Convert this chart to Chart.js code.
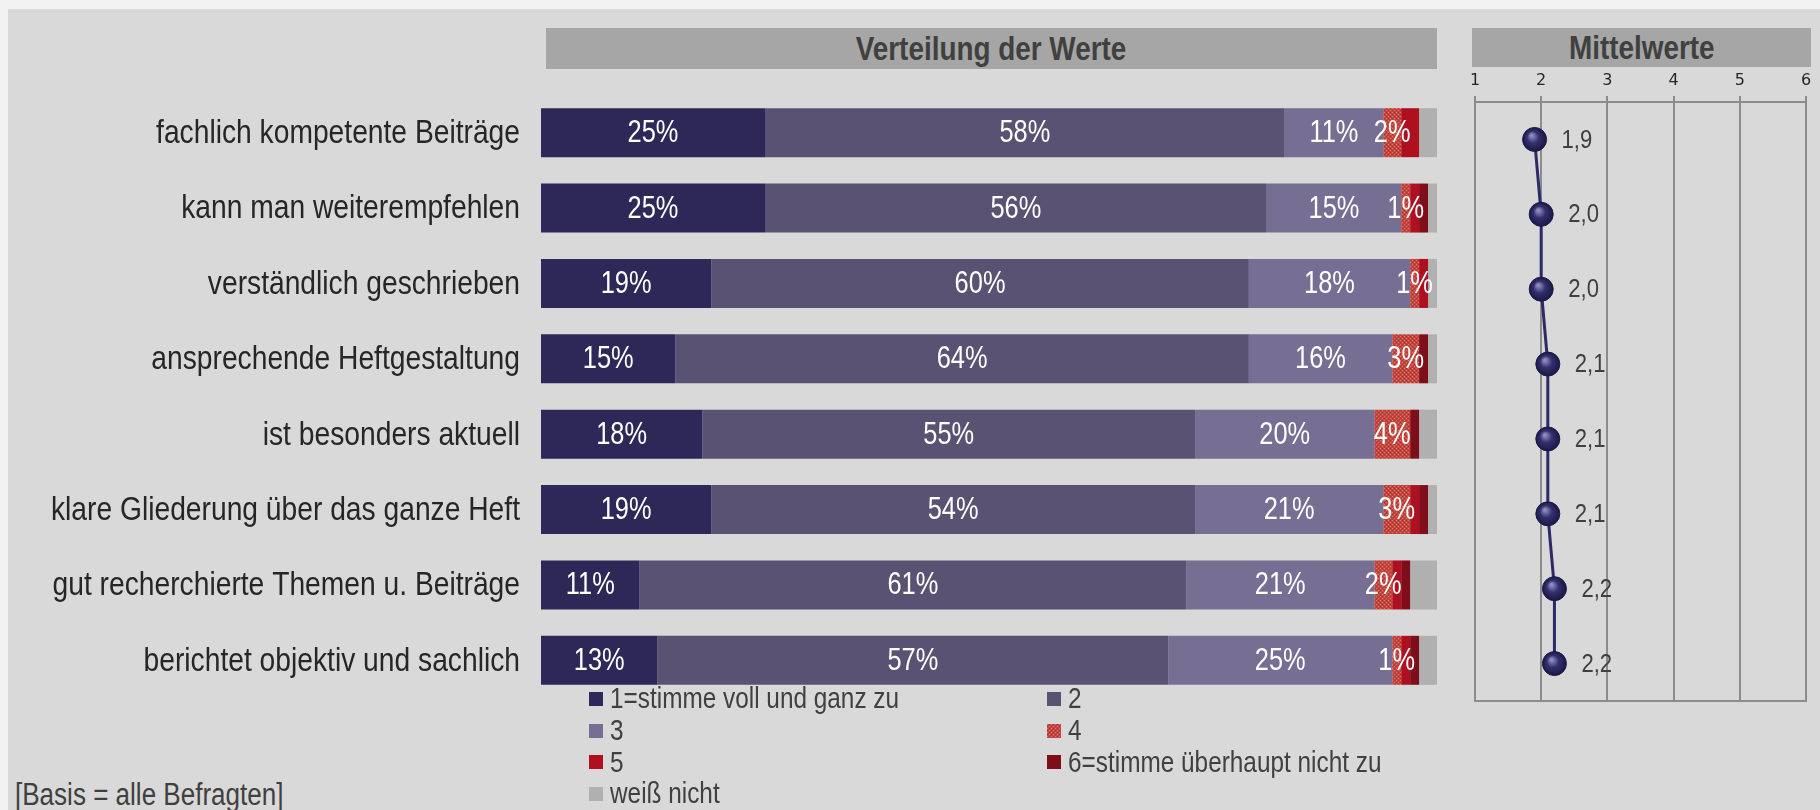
<!DOCTYPE html>
<html>
<head>
<meta charset="utf-8">
<script src="https://cdn.jsdelivr.net/npm/chart.js@4.4.1/dist/chart.umd.min.js"></script>
<style>
  body { margin: 0; width: 1820px; height: 810px; background: #f2f2f2; overflow: hidden; font-family: "Liberation Sans", Arial, sans-serif; }
  #panel { position: absolute; left: 8px; top: 9px; right: 0; bottom: 0; background: #d9d9d9; }
  .head { position: absolute; background: #a6a6a6; color: #404040; font-weight: bold; font-size: 34px; text-align: center; }
  .head span { display: inline-block; transform: scaleX(0.82); }
  #legend { position: absolute; left: 589px; top: 683px; display: grid; grid-template-columns: 458px auto; grid-auto-rows: 31.7px; color: #404040; font-size: 29px; }
  #legend div { display: flex; align-items: center; white-space: nowrap; }
  #legend span.box { display: inline-block; width: 14px; height: 14px; margin-right: 7px; flex: none; }
  #legend span.txt { display: inline-block; transform: scaleX(0.84); transform-origin: left center; }
  #note { position: absolute; left: 15px; top: 779px; font-size: 31px; line-height: 31px; color: #404040; transform: scaleX(0.84); transform-origin: left top; white-space: nowrap; }
</style>
</head>
<body>
<div id="panel"></div>
<div class="head" style="left:546px; top:28px; width:891px; height:41px; line-height:41px;"><span>Verteilung der Werte</span></div>
<div class="head" style="left:1472px; top:28px; width:339px; height:39px; line-height:39px;"><span>Mittelwerte</span></div>
<canvas id="distChart" style="position:absolute; left:0; top:80px;"></canvas>
<canvas id="meanChart" style="position:absolute; left:1440px; top:60px;"></canvas>
<div id="legend"></div>
<div id="note">[Basis = alle Befragten]</div>
<script>
const categories = [
  'fachlich kompetente Beiträge',
  'kann man weiterempfehlen',
  'verständlich geschrieben',
  'ansprechende Heftgestaltung',
  'ist besonders aktuell',
  'klare Gliederung über das ganze Heft',
  'gut recherchierte Themen u. Beiträge',
  'berichtet objektiv und sachlich'
];
const seriesNames = ['1=stimme voll und ganz zu', '2', '3', '4', '5', '6=stimme überhaupt nicht zu', 'weiß nicht'];
const stimme1 = [25, 25, 19, 15, 18, 19, 11, 13];
const stimme2 = [58, 56, 60, 64, 55, 54, 61, 57];
const stimme3 = [11, 15, 18, 16, 20, 21, 21, 25];
const stimme4 = [2, 1, 1, 3, 4, 3, 2, 1];
const stimme5 = [2, 1, 1, 0, 0, 1, 1, 1];
const stimme6 = [0, 1, 0, 1, 1, 1, 1, 1];
const weissNicht = [2, 1, 1, 1, 2, 1, 3, 2];
const means = [1.9, 2.0, 2.0, 2.1, 2.1, 2.1, 2.2, 2.2];
const meanTicks = [1, 2, 3, 4, 5, 6];

const sans = '"Liberation Sans", Arial, sans-serif';

// dotted red texture for category 4
function makeTexture() {
  const c = document.createElement('canvas');
  c.width = 4; c.height = 4;
  const g = c.getContext('2d');
  g.fillStyle = '#c4473f';
  g.fillRect(0, 0, 4, 4);
  g.fillStyle = '#d97a70';
  g.fillRect(0, 0, 1, 1); g.fillRect(2, 2, 1, 1);
  g.fillStyle = '#a9342d';
  g.fillRect(2, 0, 1, 1); g.fillRect(0, 2, 1, 1);
  return c;
}
const tex = makeTexture();
const texPattern = document.getElementById('distChart').getContext('2d').createPattern(tex, 'repeat');

const colors = ['#2e2858', '#5a5272', '#766e93', texPattern, '#af1020', '#7e0e1a', '#b0b0b0'];
const values = [stimme1, stimme2, stimme3, stimme4, stimme5, stimme6, weissNicht];

// legend, two columns like the original
const legend = document.getElementById('legend');
seriesNames.forEach((name, i) => {
  const item = document.createElement('div');
  const box = document.createElement('span');
  box.className = 'box';
  box.style.background = i === 3 ? 'url(' + tex.toDataURL() + ')' : colors[i];
  const txt = document.createElement('span');
  txt.className = 'txt';
  txt.textContent = name;
  item.appendChild(box);
  item.appendChild(txt);
  legend.appendChild(item);
});

// narrow text helper: squeeze horizontally like Arial Narrow
function narrowText(ctx, text, x, y, sx) {
  ctx.save();
  ctx.translate(x, y);
  ctx.scale(sx, 1);
  ctx.fillText(text, 0, 0);
  ctx.restore();
}

const barLabels = {
  id: 'barLabels',
  afterDatasetsDraw(chart) {
    const ctx = chart.ctx;
    ctx.save();
    ctx.fillStyle = '#ffffff';
    ctx.font = '31px ' + sans;
    ctx.textAlign = 'center';
    ctx.textBaseline = 'middle';
    for (let d = 0; d < 4; d++) {
      chart.getDatasetMeta(d).data.forEach((bar, i) => {
        const v = chart.data.datasets[d].data[i];
        if (!v) return;
        narrowText(ctx, v + '%', (bar.x + bar.base) / 2, bar.y + 1, 0.82);
      });
    }
    // category labels
    const y = chart.scales.y;
    ctx.fillStyle = '#262626';
    ctx.font = '34px ' + sans;
    ctx.textAlign = 'right';
    chart.data.labels.forEach((lab, i) => {
      narrowText(ctx, lab, y.right - 21, y.getPixelForValue(i) + 1, 0.83);
    });
    ctx.restore();
  }
};

const distCanvas = document.getElementById('distChart');
distCanvas.width = 1450; distCanvas.height = 640;
const distChart = new Chart(distCanvas, {
  type: 'bar',
  data: {
    labels: categories,
    datasets: values.map((v, i) => ({
      label: seriesNames[i],
      data: v,
      backgroundColor: colors[i],
      borderWidth: 0,
      categoryPercentage: 1,
      barPercentage: 0.65
    }))
  },
  options: {
    indexAxis: 'y',
    responsive: false,
    animation: false,
    layout: { padding: { top: 15, bottom: 22, right: 13 } },
    scales: {
      x: { stacked: true, min: 0, max: 100, display: false },
      y: {
        stacked: true,
        grid: { display: false, drawTicks: false },
        border: { display: false },
        ticks: { display: false },
        afterFit: s => { s.width = 541; }
      }
    },
    plugins: { legend: { display: false }, tooltip: { enabled: false } }
  },
  plugins: [barLabels]
});

const meanDecor = {
  id: 'meanDecor',
  beforeDatasetsDraw(chart) {
    const { ctx, chartArea: a } = chart;
    ctx.save();
    ctx.strokeStyle = '#8c8c8c';
    ctx.lineWidth = 2;
    ctx.strokeRect(a.left, a.top, a.right - a.left, a.bottom - a.top);
    ctx.restore();
  },
  afterDatasetsDraw(chart) {
    const ctx = chart.ctx;
    ctx.save();
    ctx.fillStyle = '#3f3f3f';
    ctx.font = '26px ' + sans;
    ctx.textAlign = 'left';
    ctx.textBaseline = 'middle';
    chart.getDatasetMeta(0).data.forEach((pt, i) => {
      narrowText(ctx, means[i].toFixed(1).replace('.', ','), pt.x + 27, pt.y + 1, 0.85);
    });
    ctx.restore();
  }
};

function sphere(c) {
  const ch = c.chart;
  if (!ch.scales.x || !ch.scales.y || c.dataIndex === undefined) return '#2e2a66';
  const x = ch.scales.x.getPixelForValue(means[c.dataIndex]);
  const y = ch.scales.y.getPixelForValue(c.dataIndex);
  if (!isFinite(x) || !isFinite(y)) return '#2e2a66';
  const g = ch.ctx.createRadialGradient(x - 3, y - 4, 1, x, y, 12);
  g.addColorStop(0, '#8f8cc4');
  g.addColorStop(0.45, '#34306e');
  g.addColorStop(1, '#1b1846');
  return g;
}

const meanCanvas = document.getElementById('meanChart');
meanCanvas.width = 380; meanCanvas.height = 660;
const meanChart = new Chart(meanCanvas, {
  type: 'line',
  data: {
    labels: categories,
    datasets: [{
      label: 'Mittelwerte',
      data: means,
      borderColor: '#2e2a66',
      borderWidth: 3,
      pointRadius: 12,
      pointBorderWidth: 1,
      pointBorderColor: '#1b1846',
      pointBackgroundColor: sphere,
      tension: 0
    }]
  },
  options: {
    indexAxis: 'y',
    responsive: false,
    animation: false,
    layout: { padding: { left: 35, right: 14, bottom: 19 } },
    scales: {
      x: {
        position: 'top',
        min: 1,
        max: 6,
        afterBuildTicks: s => { s.ticks = meanTicks.map(v => ({ value: v })); },
        grid: { color: '#8c8c8c', lineWidth: 2, drawTicks: true, tickLength: 6 },
        border: { display: false },
        ticks: { color: '#262626', font: { family: '"DejaVu Sans", sans-serif', size: 16 }, padding: 6, maxRotation: 0 },
        afterFit: s => { s.height = 42; }
      },
      y: { type: 'category', offset: true, display: false }
    },
    plugins: { legend: { display: false }, tooltip: { enabled: false } }
  },
  plugins: [meanDecor]
});
</script>
</body>
</html>
